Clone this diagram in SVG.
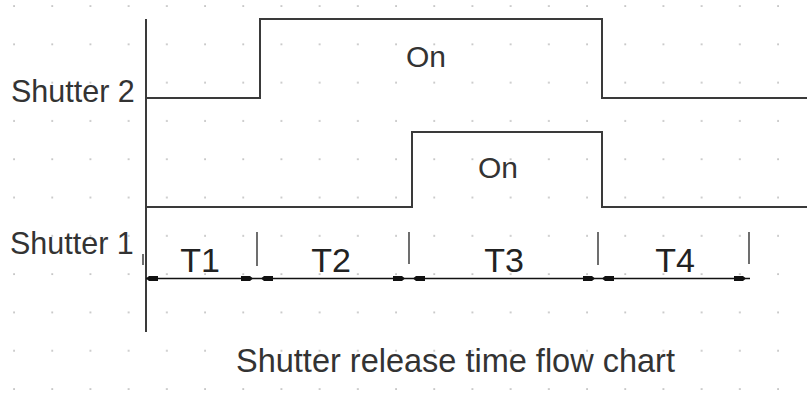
<svg xmlns="http://www.w3.org/2000/svg" width="807" height="396" viewBox="0 0 807 396">
<style>
text{font-family:"Liberation Sans",Arial,sans-serif;fill:#333}
.lbl{font-size:30.5px}
.on{font-size:30px}
.t{font-size:34px;fill:#222}
.wave{fill:none;stroke:#3a3a3a;stroke-width:2}
.dim{fill:none;stroke:#111;stroke-width:1.3}
.tick{stroke:#222;stroke-width:1.3}
.ah{fill:#111}
</style>
<defs>
<pattern id="dots" patternUnits="userSpaceOnUse" x="13" y="5" width="38.2" height="38.3">
<rect x="0.3" y="0.3" width="1.5" height="1.5" fill="#aaa"/>
</pattern>
</defs>
<rect width="807" height="396" fill="#fff"/>
<rect width="807" height="396" fill="url(#dots)"/>
<g id="axis"><path class="wave" d="M146,19 V332"/></g>
<g id="shutter2">
<path class="wave" d="M146,98 H260 V19 H602 V98 H807"/>
<text class="lbl" x="11" y="102">Shutter 2</text>
<text class="on" x="406" y="67">On</text>
</g>
<g id="shutter1">
<path class="wave" d="M146,207 H412 V132 H602 V207 H807"/>
<text class="lbl" x="10" y="254">Shutter 1</text>
<text class="on" x="478" y="178">On</text>
</g>
<g id="connectors">
<path class="dim" d="M146,278.5 H750"/>
<path class="tick" d="M143,254 V265 M257,232 V266 M409,232 V264 M598,232 V265 M749,232 V264"/>
<polygon class="ah" points="146,278.5 149,276 158,276 158,281 149,281"/>
<polygon class="ah" points="253,278.5 250,276 241,276 241,281 250,281"/>
<polygon class="ah" points="261,278.5 264,276 273,276 273,281 264,281"/>
<polygon class="ah" points="405,278.5 402,276 393,276 393,281 402,281"/>
<polygon class="ah" points="413,278.5 416,276 425,276 425,281 416,281"/>
<polygon class="ah" points="595,278.5 592,276 583,276 583,281 592,281"/>
<polygon class="ah" points="602,278.5 605,276 614,276 614,281 605,281"/>
<polygon class="ah" points="746,278.5 743,276 734,276 734,281 743,281"/>
</g>
<g id="periods">
<text class="t" x="200" y="272" text-anchor="middle">T1</text>
<text class="t" x="331" y="272" text-anchor="middle">T2</text>
<text class="t" x="504" y="272" text-anchor="middle">T3</text>
<text class="t" x="675" y="272" text-anchor="middle">T4</text>
</g>
<g id="title"><text x="236" y="372" style="font-size:32.5px">Shutter release time flow chart</text></g>
</svg>
